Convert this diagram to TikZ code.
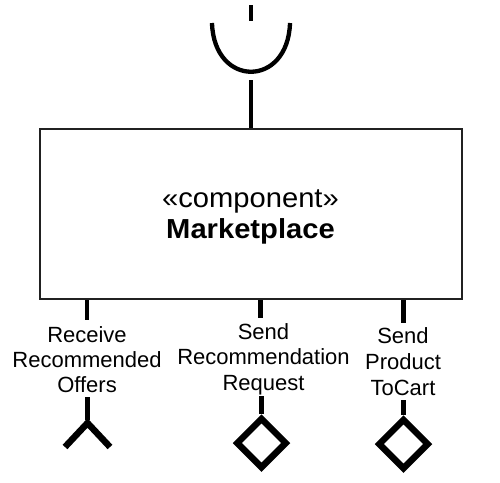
\documentclass[tikz,border=0pt]{standalone}
\usepackage{fontspec}
\setmainfont{Liberation Sans}
\newfontfamily\boxfont[FakeStretch=1.06]{Liberation Sans}
\usetikzlibrary{shapes.geometric}
\begin{document}
\begin{tikzpicture}[x=1pt,y=-1pt,
  compbox/.style={draw=black!87, line width=2pt, minimum width=422pt, minimum height=170pt, inner sep=0pt},
  boxtxt/.style={font=\boxfont\fontsize{27.5}{31}\selectfont, inner sep=0pt, anchor=base},
  lbl/.style={font=\fontsize{22}{26}\selectfont, inner sep=0pt, anchor=base},
  stub/.style={line width=4.8pt, black},
  sock/.style={line width=4.3pt, black},
  prov/.style={diamond, shape aspect=1, draw=black, line width=6.5pt, minimum width=51pt, minimum height=51pt, inner sep=0pt},
  req/.style={line width=6.5pt, black, miter limit=10}
]
\useasboundingbox (0,0) rectangle (500,482);
% component box
\node[compbox] (comp) at (251,214) {};
\node[boxtxt] (stereo) at (250.5,207) {«component»};
\node[boxtxt, font=\boxfont\bfseries\fontsize{27.5}{31}\selectfont] (cname) at (250.5,238) {Marketplace};
% top required interface (socket)
\coordinate (tk1) at (251,5);
\coordinate (tk2) at (251,21);
\draw[stub] (tk1) -- (tk2);
\coordinate (sL) at (212,23);
\coordinate (sR) at (290,23);
\draw[sock] (sL) .. controls (214,88) and (288,88) .. (sR);
\coordinate (sB) at (251,80);
\draw[stub] (sB) -- (comp.north -| sB);
% bottom port stubs
\coordinate (p1) at (87,320);
\coordinate (p2) at (260.5,318);
\coordinate (p3) at (403.5,323);
\draw[stub] (comp.south -| p1) -- (p1);
\draw[stub] (comp.south -| p2) -- (p2);
\draw[stub] (comp.south -| p3) -- (p3);
% labels
\node[lbl] (l1a) at (87,342) {Receive};
\node[lbl] (l1b) at (87,367) {Recommended};
\node[lbl] (l1c) at (87,392) {Offers};
\node[lbl] (l2a) at (263.5,339) {Send};
\node[lbl] (l2b) at (263.5,364.5) {Recommendation};
\node[lbl] (l2c) at (263.5,390) {Request};
\node[lbl] (l3a) at (403,343) {Send};
\node[lbl] (l3b) at (403,369) {Product};
\node[lbl] (l3c) at (403,395) {ToCart};
% left: chevron (required interface end)
\coordinate (q1) at (87.5,397);
\coordinate (q1e) at (87.5,419.5);
\coordinate (c1apex) at (87.5,423);
\coordinate (c1l) at (65,447);
\coordinate (c1r) at (110,447);
\draw[stub] (q1) -- (q1e);
\draw[req] (c1l) -- (c1apex) -- (c1r);
% middle: diamond
\node[prov] (dm2) at (261.5,443) {};
\coordinate (q2) at (261.5,396);
\draw[stub] (q2) -- (dm2.north);
% right: diamond
\node[prov] (dm3) at (403.5,444) {};
\coordinate (q3) at (403.5,400);
\draw[stub] (q3) -- (dm3.north);
\end{tikzpicture}
\end{document}
